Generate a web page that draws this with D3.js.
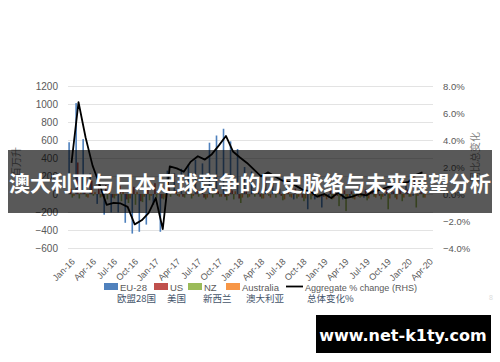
<!DOCTYPE html>
<html><head><meta charset="utf-8">
<script src="https://cdn.jsdelivr.net/npm/d3@7"></script>
<style>
html,body{margin:0;padding:0;background:#fff;}
svg{display:block;}
</style></head>
<body>
<svg id="chart" width="500" height="362"></svg>
<script>
const months = ["Jan-16","Feb-16","Mar-16","Apr-16","May-16","Jun-16","Jul-16","Aug-16","Sep-16","Oct-16","Nov-16","Dec-16",
"Jan-17","Feb-17","Mar-17","Apr-17","May-17","Jun-17","Jul-17","Aug-17","Sep-17","Oct-17","Nov-17","Dec-17",
"Jan-18","Feb-18","Mar-18","Apr-18","May-18","Jun-18","Jul-18","Aug-18","Sep-18","Oct-18","Nov-18","Dec-18",
"Jan-19","Feb-19","Mar-19","Apr-19","May-19","Jun-19","Jul-19","Aug-19","Sep-19","Oct-19","Nov-19","Dec-19",
"Jan-20","Feb-20","Mar-20","Apr-20"];
const xTickLabels = ["Jan-16","Apr-16","Jul-16","Oct-16","Jan-17","Apr-17","Jul-17","Oct-17","Jan-18","Apr-18","Jul-18","Oct-18","Jan-19","Apr-19","Jul-19","Oct-19","Jan-20","Apr-20"];
const leftTicks = [-600,-400,-200,0,200,400,600,800,1000,1200];
const rightTicks = [-0.04,-0.02,0,0.02,0.04,0.06,0.08];

const euValues = [575,1010,610,230,-110,-230,-205,-205,-320,-440,-420,-340,-120,-420,260,230,280,330,380,340,570,650,725,585,500,300,250,120,180,150,60,80,-60,40,-170,-60,-150,-40,30,-60,-30,20,-40,30,50,-20,60,80,100,-20,120];
const usValues = [60,350,120,150,180,100,-40,90,-60,80,-80,60,120,-50,80,40,-30,60,50,-40,40,30,-30,40,-50,60,40,-30,50,30,-20,40,60,-40,30,20,-30,50,-20,40,30,-30,50,40,-20,60,30,70,50,200,80];
const nzValues = [-40,-50,-30,-20,-40,-60,-50,-80,-100,-120,-90,-70,-40,-60,-30,-20,-40,-50,-30,-60,-40,-30,-70,-60,-100,-40,-30,-50,-20,-40,-70,-30,-50,-80,-60,-40,-30,-60,-135,-190,-50,-40,-70,-30,-60,-170,-40,-80,-30,-150,-40];
const auValues = [-20,30,-40,20,-30,40,-20,30,-50,20,-30,-20,30,-40,20,-30,40,-20,30,-40,20,-30,-20,30,-40,-30,20,-50,-40,30,-60,-40,-30,-50,-20,-40,-60,-50,-30,-40,-60,-30,-50,-40,-30,-50,-60,-40,-30,-20,-40];
const aggregatePct = [2.3,6.8,4.2,2.1,0.7,-0.8,-0.65,-0.7,-0.95,-2.25,-1.95,-1.4,-0.3,-2.6,2.05,1.9,1.65,2.4,2.8,2.55,2.95,3.6,4.3,3.15,2.7,2.3,1.8,1.3,1.6,1.3,1.0,0.9,0.6,0.3,0.2,-0.2,0.0,-0.3,0.1,-0.3,-0.2,0.0,-0.1,0.2,0.3,0.5,0.6,0.8,0.9,1.4,1.6];

const seriesNames = ["EU-28","US","NZ","Australia"];
const seriesCN = ["欧盟28国","美国","新西兰","澳大利亚"];
const seriesColors = ["#4f81bd","#c0504d","#9bbb59","#f79646"];
const seriesData = [euValues, usValues, nzValues, auValues];
const lineName = "Aggregate % change (RHS)";
const lineCN = "总体变化%";
const titleText = "澳大利亚与日本足球竞争的历史脉络与未来展望分析";
const watermark = "www.net-k1ty.com";

const svg = d3.select("#chart");
const L = 68, R = 433, T = 86, B = 248;
const x = d3.scaleBand().domain(months).range([L, R]).padding(0);
const bw = x.bandwidth();
const xs = d3.scaleBand().domain(seriesNames).range([0.3, bw - 0.3]).padding(0);
const yL = d3.scaleLinear().domain([-600, 1200]).range([B, T]);
const yR = d3.scaleLinear().domain([-0.04, 0.08]).range([B, T]);
const font = "'Liberation Sans', Arial, sans-serif";

// gridlines + left axis
const gl = svg.append("g").attr("transform", `translate(${L},0)`)
  .call(d3.axisLeft(yL).tickValues(leftTicks).tickSize(-(R - L)).tickPadding(10).tickFormat(d3.format("d")));
gl.select(".domain").remove();
gl.selectAll(".tick line").attr("stroke", "#e3e3e3").attr("stroke-width", 1);
gl.selectAll(".tick text").attr("fill", "#595959").style("font-family", font).style("font-size", "10px");

// right axis
const gr = svg.append("g").attr("transform", `translate(${R},0)`)
  .call(d3.axisRight(yR).tickValues(rightTicks).tickSize(0).tickPadding(10).tickFormat(d3.format(".1%")));
gr.select(".domain").remove();
gr.selectAll(".tick text").attr("fill", "#595959").style("font-family", font).style("font-size", "9.5px");

// x axis labels
const gx = svg.append("g").attr("transform", `translate(0,${B})`)
  .call(d3.axisBottom(x).tickValues(xTickLabels).tickSize(0));
gx.select(".domain").remove();
gx.selectAll(".tick text")
  .attr("fill", "#595959").style("font-family", font).style("font-size", "9px")
  .attr("text-anchor", "end").attr("dy", "0")
  .attr("transform", "translate(2,12) rotate(-45)");

// bars
seriesNames.forEach((s, k) => {
  svg.append("g").selectAll("rect").data(seriesData[k]).join("rect")
    .attr("x", (d, i) => x(months[i]) + xs(s))
    .attr("width", xs.bandwidth())
    .attr("y", d => Math.min(yL(d), yL(0)))
    .attr("height", d => Math.abs(yL(d) - yL(0)))
    .attr("fill", seriesColors[k]);
});

// line
const line = d3.line().x((d, i) => x(months[i]) + bw / 2).y(d => yR(d / 100));
svg.append("path").datum(aggregatePct).attr("d", line)
  .attr("fill", "none").attr("stroke", "#000").attr("stroke-width", 1.8).attr("stroke-linejoin", "round");

// axis titles
svg.append("text").attr("transform", "translate(20,162) rotate(-90)").attr("text-anchor", "middle")
  .attr("fill", "#7f7f7f").style("font-family", "'Noto Sans CJK SC'").style("font-size", "10px").text("百万升");
svg.append("text").attr("transform", "translate(479,157) rotate(-90)").attr("text-anchor", "middle")
  .attr("fill", "#7f7f7f").style("font-family", "'Noto Sans CJK SC'").style("font-size", "10px").text("同比总变化");

// legend
const lg = svg.append("g");
const swX = [104, 154, 188, 226];
const txX = [120, 170, 204, 242];
const cnX = [117, 167, 203, 246];
seriesNames.forEach((s, k) => {
  lg.append("rect").attr("x", swX[k]).attr("y", 283).attr("width", 14).attr("height", 7).attr("fill", seriesColors[k]);
  lg.append("text").attr("x", txX[k]).attr("y", 290.5).attr("fill", "#595959")
    .style("font-family", font).style("font-size", "9.5px").text(s);
  lg.append("text").attr("x", cnX[k]).attr("y", 301.5).attr("fill", "#44546a")
    .style("font-family", "'Noto Sans CJK SC'").style("font-size", "9.5px").text(seriesCN[k]);
});
lg.append("line").attr("x1", 286).attr("x2", 303).attr("y1", 286.5).attr("y2", 286.5).attr("stroke", "#000").attr("stroke-width", 1.8);
lg.append("text").attr("x", 305).attr("y", 290.5).attr("fill", "#595959")
  .style("font-family", font).style("font-size", "9.5px")
  .attr("textLength", 112).attr("lengthAdjust", "spacingAndGlyphs").text(lineName);
lg.append("text").attr("x", 307).attr("y", 301.5).attr("fill", "#44546a")
  .style("font-family", "'Noto Sans CJK SC'").style("font-size", "9.5px").text(lineCN);
svg.append("text").attr("x", 489).attr("y", 300).attr("fill", "#dddddd")
  .style("font-family", font).style("font-size", "7px").text("8");

// banner
svg.append("rect").attr("x", 8).attr("y", 150).attr("width", 484).attr("height", 63).attr("fill", "rgba(0,0,0,0.65)");
svg.append("text").attr("x", 250).attr("y", 182).attr("text-anchor", "middle").attr("dominant-baseline", "central")
  .attr("fill", "#fff").style("font-family", "'Noto Sans CJK SC'").style("font-weight", "bold").style("font-size", "21px")
  .attr("textLength", 482).attr("lengthAdjust", "spacingAndGlyphs").text(titleText);

// watermark
svg.append("rect").attr("x", 316).attr("y", 315).attr("width", 175).attr("height", 38).attr("fill", "#000");
svg.append("text").attr("x", 403).attr("y", 335).attr("text-anchor", "middle").attr("dominant-baseline", "central")
  .attr("fill", "#fff").style("font-family", "'DejaVu Sans', sans-serif").style("font-weight", "bold").style("font-size", "16px")
  .text(watermark);
</script>
</body></html>
